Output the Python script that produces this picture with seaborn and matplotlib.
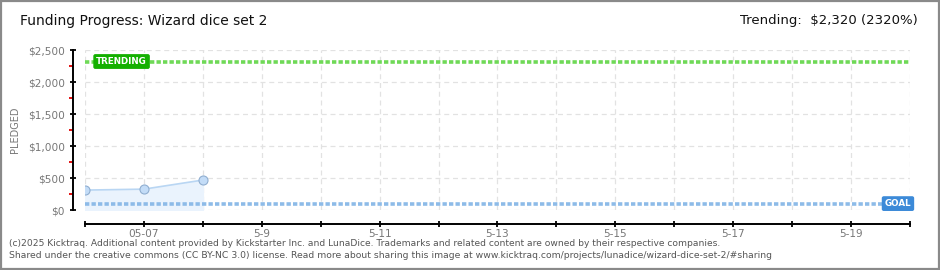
import matplotlib
matplotlib.use("Agg")
import matplotlib.pyplot as plt
import matplotlib.patches as mpatches
import pandas as pd
import seaborn as sns

# Pledge history
dates = ["2025-05-06", "2025-05-07", "2025-05-08"]
pledged = [311, 326, 468]

goal = 100
trending = 2320
title = "Funding Progress: Wizard dice set 2"
trend_text = "Trending:  $2,320 (2320%)"

tick_days = pd.date_range("2025-05-06", "2025-05-20", freq="D")
tick_labels = ["", "05-07", "", "5-9", "", "5-11", "", "5-13", "", "5-15",
               "", "5-17", "", "5-19", ""]
y_major = [0, 500, 1000, 1500, 2000, 2500]
y_labels = ["$0", "$500", "$1,000", "$1,500", "$2,000", "$2,500"]
y_minor = [250, 750, 1250, 1750, 2250]

footer1 = ("(c)2025 Kicktraq. Additional content provided by Kickstarter Inc. and LunaDice. "
           "Trademarks and related content are owned by their respective companies.")
footer2 = ("Shared under the creative commons (CC BY-NC 3.0) license. Read more about sharing "
           "this image at www.kicktraq.com/projects/lunadice/wizard-dice-set-2/#sharing")

df = pd.DataFrame({"date": pd.to_datetime(dates), "pledged": pledged})

sns.set_style("white")
plt.rcParams["font.family"] = ["DejaVu Sans"]

fig = plt.figure(figsize=(9.4, 2.7), dpi=100)
fig.patch.set_facecolor("white")
# outer frame
fig.add_artist(mpatches.Rectangle((0.0008, 0.002), 0.9984, 0.996, transform=fig.transFigure,
                                  fill=False, edgecolor="#8a8a8a", linewidth=1.6))

ax = fig.add_axes([85 / 940, 1 - 210 / 270, 825 / 940, 160 / 270])
ax.set_facecolor("white")

x0 = pd.Timestamp("2025-05-06")
x1 = pd.Timestamp("2025-05-20")
ax.set_xlim(x0, x1)
ax.set_ylim(0, 2500)

# grid
for d in tick_days:
    ax.axvline(d, color="#e2e2e2", lw=0.9, ls=(0, (4, 3)), zorder=0)
for v in y_major:
    ax.axhline(v, color="#e2e2e2", lw=0.9, ls=(0, (4, 3)), zorder=0)

# area + line
ax.fill_between(df["date"], df["pledged"], 0, color="#eaf3fd", zorder=1)
sns.lineplot(data=df, x="date", y="pledged", ax=ax, color="#b9d6f3", lw=1.2,
             marker="o", markersize=6.5, markerfacecolor="#c3dcf7",
             markeredgecolor="#90aed0", markeredgewidth=0.8, zorder=3)

# goal and trending lines
ax.axhline(goal, color="#8dbbe8", lw=2.6, ls=(0, (1.2, 0.6)), zorder=2)
ax.axhline(trending, color="#6fd957", lw=2.6, ls=(0, (1.2, 0.6)), zorder=2)

day = pd.Timedelta(days=1)
ax.text(x0 + 0.19 * day, trending, "TRENDING", color="white", fontsize=6.3,
        fontweight="bold", va="center", ha="left", zorder=5,
        bbox=dict(boxstyle="round,pad=0.25,rounding_size=0.15", fc="#14b000", ec="#14b000"))
ax.text(x0 + 13.57 * day, goal, "GOAL", color="white", fontsize=6.3,
        fontweight="bold", va="center", ha="left", zorder=5,
        bbox=dict(boxstyle="round,pad=0.25,rounding_size=0.15", fc="#3c8ad8", ec="#3c8ad8"))

# axes styling
for s in ("top", "right"):
    ax.spines[s].set_visible(False)
ax.spines["left"].set_position(("outward", 9))
ax.spines["bottom"].set_position(("outward", 10))
for s in ("left", "bottom"):
    ax.spines[s].set_color("black")
    ax.spines[s].set_linewidth(1.4)

ax.set_xticks(tick_days)
ax.set_xticklabels(tick_labels)
ax.set_yticks(y_major)
ax.set_yticklabels(y_labels)
ax.set_yticks(y_minor, minor=True)
ax.tick_params(axis="both", which="both", bottom=True, left=True, top=False, right=False)
ax.tick_params(axis="both", which="major", direction="inout", length=5, width=1.3,
               color="black", labelsize=7.6, labelcolor="#777777")
ax.tick_params(axis="y", which="major", pad=3)
ax.tick_params(axis="x", which="major", pad=1)
ax.tick_params(axis="y", which="minor", direction="out", length=3, width=1.3, color="#e00000")
ax.set_xlabel("")
ax.set_ylabel("PLEDGED", fontsize=7, color="#777777")
ax.yaxis.set_label_coords((20 - 85) / 825, 0.5)

fig.text(20 / 940, 1 - 21 / 270, title, fontsize=10, color="#111111", va="center", ha="left")
fig.text(918 / 940, 1 - 21 / 270, trend_text, fontsize=9.5, color="#111111", va="center", ha="right")
fig.text(9 / 940, 1 - 243 / 270, footer1, fontsize=6.6, color="#555555", va="center", ha="left")
fig.text(9 / 940, 1 - 256 / 270, footer2, fontsize=6.7, color="#555555", va="center", ha="left")

fig.savefig("out.png", dpi=100, facecolor="white")
